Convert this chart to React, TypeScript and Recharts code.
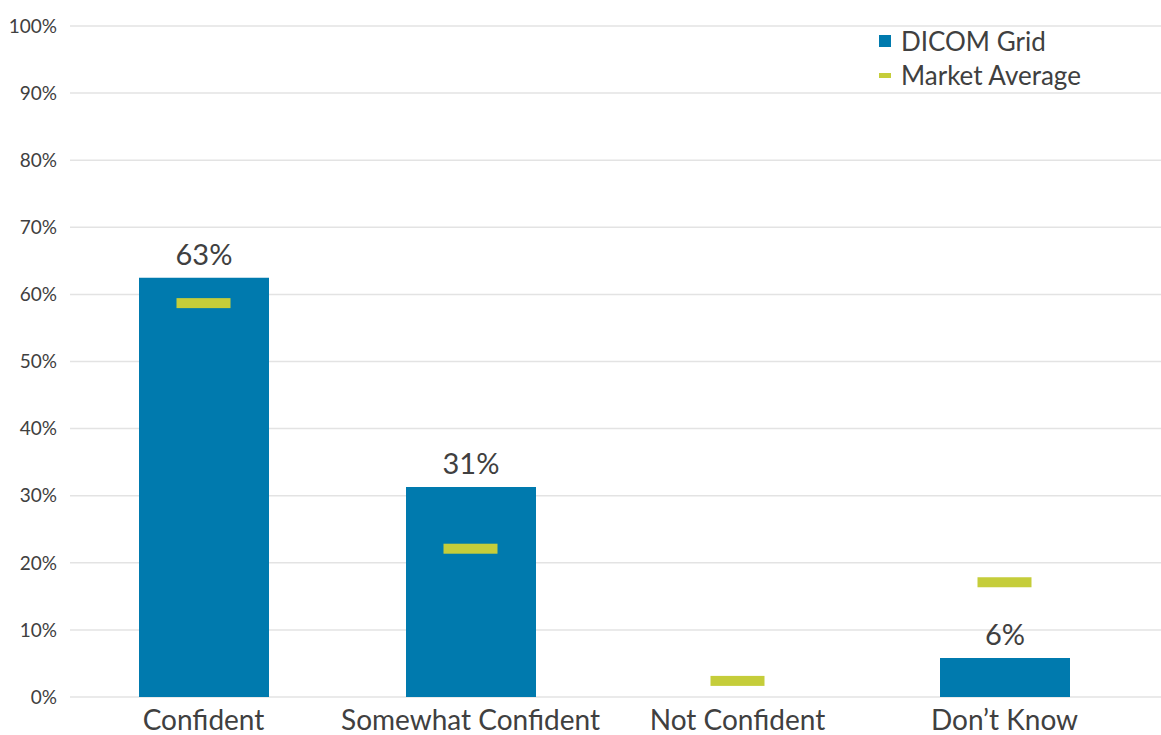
import React from 'react';
import {
  ComposedChart, Bar, Scatter, XAxis, YAxis, CartesianGrid, LabelList
} from 'recharts';

const categories = ['Confident', 'Somewhat Confident', 'Not Confident', 'Don\u2019t Know'];
const dicomGrid = [62.5, 31.3, 0, 5.8];
const marketAverage = [58.7, 22.1, 2.4, 17.1];
const yTicks = [0, 10, 20, 30, 40, 50, 60, 70, 80, 90, 100];

const BLUE = '#007aae';
const GREEN = '#c5cd3a';
const TEXT = '#404040';
const FONT = 'Lato, "Open Sans", sans-serif';

const data = categories.map((name, i) => ({
  name,
  dicom: dicomGrid[i],
  market: marketAverage[i],
}));

const MarketMark = (props: any) => {
  const { cx, cy } = props;
  if (cx == null || cy == null) return null;
  return <rect x={cx - 27} y={cy - 5} width={54} height={10} fill={GREEN} />;
};

const LegendBox = () => (
  <div
    style={{
      position: 'absolute', left: 879, top: 24,
      fontFamily: FONT, fontSize: 26, color: TEXT, lineHeight: '34px',
    }}
  >
    <div style={{ display: 'flex', alignItems: 'center' }}>
      <span style={{ width: 12, height: 12, background: BLUE, display: 'inline-block', marginRight: 10 }} />
      DICOM Grid
    </div>
    <div style={{ display: 'flex', alignItems: 'center' }}>
      <span style={{ width: 12, height: 5, background: GREEN, display: 'inline-block', marginRight: 10 }} />
      Market Average
    </div>
  </div>
);

export default function App() {
  return (
    <div style={{ position: 'absolute', left: 0, top: 0, width: 1161, height: 735 }}>
      <ComposedChart
        width={1161}
        height={735}
        data={data}
        margin={{ top: 26, right: 0, bottom: 0, left: 0 }}
      >
        <CartesianGrid vertical={false} stroke="#e3e3e3" strokeWidth={1.5} />
        <XAxis
          dataKey="name"
          height={38}
          axisLine={false}
          tickLine={false}
          tickSize={0}
          tickMargin={13}
          padding={{ left: 0, right: 23 }}
          tick={{ fontSize: 28, fill: TEXT, fontFamily: FONT }}
          interval={0}
        />
        <YAxis
          width={70}
          domain={[0, 100]}
          ticks={yTicks}
          axisLine={false}
          tickLine={false}
          tickSize={0}
          tickMargin={13}
          tickFormatter={(v: number) => `${v}%`}
          tick={{ fontSize: 19, fill: TEXT, fontFamily: FONT }}
        />
        <Bar dataKey="dicom" fill={BLUE} barSize={130} isAnimationActive={false}>
          <LabelList
            dataKey="dicom"
            position="top"
            offset={13}
            formatter={(v: any) => (v > 0 ? `${Math.round(v)}%` : '')}
            style={{ fontSize: 29, fill: TEXT, fontFamily: FONT }}
          />
        </Bar>
        <Scatter dataKey="market" shape={MarketMark} isAnimationActive={false} />
      </ComposedChart>
      <LegendBox />
    </div>
  );
}
